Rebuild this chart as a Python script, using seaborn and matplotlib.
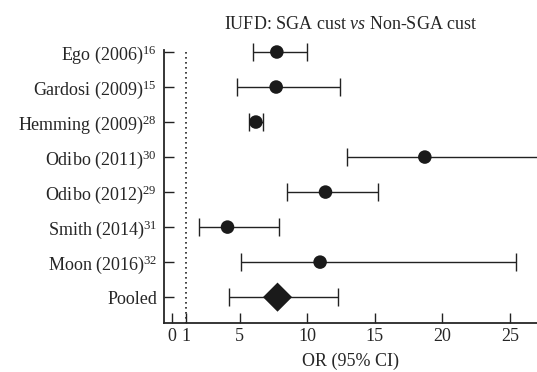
# forest plot: IUFD, SGA cust vs Non-SGA cust
import numpy as np
import pandas as pd
import matplotlib
matplotlib.use("Agg")
import matplotlib.pyplot as plt
import seaborn as sns

# ---------- Data ----------
studies = ["Ego (2006)$^{16}$", "Gardosi (2009)$^{15}$", "Hemming (2009)$^{28}$",
           "Odibo (2011)$^{30}$", "Odibo (2012)$^{29}$", "Smith (2014)$^{31}$",
           "Moon (2016)$^{32}$", "Pooled"]
odds_ratio = [7.75, 7.7, 6.2, 18.7, 11.35, 4.1, 10.95, 7.8]
ci_lower = [6.0, 4.8, 5.7, 12.95, 8.5, 2.0, 5.1, 4.2]
ci_upper = [10.0, 12.45, 6.7, 28.0, 15.2, 7.9, 25.45, 12.25]
kind = ["study"] * 7 + ["pooled"]
xticks = [0, 1, 5, 10, 15, 20, 25]

df = pd.DataFrame({"study": studies, "OR": odds_ratio, "lo": ci_lower,
                   "hi": ci_upper, "kind": kind})
df["pos"] = np.arange(len(df))

# ---------- Style ----------
sns.set_style("ticks")
plt.rcParams["font.family"] = ["Liberation Serif", "DejaVu Serif"]
plt.rcParams["mathtext.fontset"] = "custom"
plt.rcParams["mathtext.rm"] = "Liberation Serif"
plt.rcParams["mathtext.it"] = "Liberation Serif:italic"
FS = 13

fig = plt.figure(figsize=(5.37, 3.72), dpi=100)
ax = fig.add_axes([164 / 537, 1 - 322.7 / 372, 1 - 164 / 537, (322.7 - 40) / 372])

# error bars
ax.errorbar(df["OR"], df["pos"], xerr=[df["OR"] - df["lo"], df["hi"] - df["OR"]],
            fmt="none", ecolor="#222222", elinewidth=1.0, capsize=6.5, capthick=1.0,
            zorder=2)

# points
sns.scatterplot(data=df, x="OR", y="pos", style="kind",
                markers={"study": "o", "pooled": "D"},
                size="kind", sizes={"study": 95, "pooled": 220},
                color="#1a1a1a", edgecolor="#1a1a1a", linewidth=0,
                legend=False, zorder=3, ax=ax)

# line of no effect
ax.plot([1, 1], [0, 7.73], ls=(0, (1, 2)), color="#222222", lw=1.2, zorder=1)

ax.set_xlim(-0.6, 27)
ax.set_ylim(7.73, -0.343)
ax.set_yticks(df["pos"])
ax.set_yticklabels(df["study"])
ax.set_xticks(xticks)
ax.set_xticklabels([str(t) for t in xticks])
ax.tick_params(direction="in", length=7, width=1.0, labelsize=FS, color="#222222")
ax.tick_params(axis="x", pad=4)
ax.tick_params(axis="y", pad=5)

for side in ["top", "right"]:
    ax.spines[side].set_visible(False)
ax.spines["left"].set_bounds(-0.05, 7.73)
ax.spines["left"].set_linewidth(1.3)
ax.spines["bottom"].set_linewidth(1.3)

ax.set_xlabel("OR (95% CI)", fontsize=FS, labelpad=5.5)
ax.set_ylabel("")
ax.set_title("IUFD: SGA cust $\\mathit{vs}$ Non-SGA cust", fontsize=FS, pad=8)

fig.savefig("out.png", dpi=100)
